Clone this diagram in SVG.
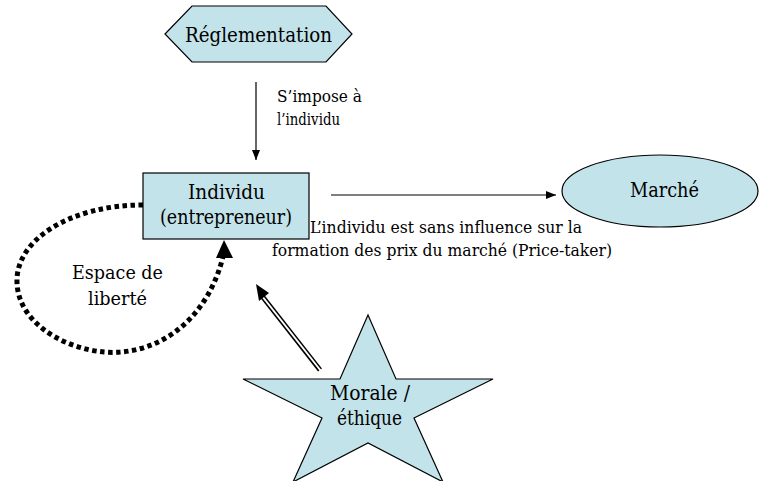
<svg xmlns="http://www.w3.org/2000/svg" width="763" height="481" viewBox="0 0 763 481" font-family="'DejaVu Serif', 'Liberation Serif', serif">
<style>
.shape{fill:#c2e3ea;stroke:#000;stroke-width:1.2}
text{fill:#000}
.big{font-size:21px;text-anchor:middle}
.lbl{font-size:17px}
.mid{font-size:19px;text-anchor:middle}
</style>
<defs>
<marker id="ah" markerWidth="10" markerHeight="8" refX="10" refY="4" orient="auto" markerUnits="userSpaceOnUse">
<path d="M0,0 L10,4 L0,8 Z" fill="#000"/>
</marker>
</defs>
<rect width="763" height="481" fill="#fff"/>
<g id="connectors">
<line x1="256" y1="82" x2="256" y2="160" stroke="#000" stroke-width="1.2" marker-end="url(#ah)"/>
<line x1="331" y1="195" x2="556" y2="195" stroke="#000" stroke-width="1.2" marker-end="url(#ah)"/>
<path d="M143,205 C70,205 15,240 17,283 C19,330 80,356 122,352 C180,346 214,300 224,252" fill="none" stroke="#000" stroke-width="5" stroke-dasharray="4.5 3.5"/>
<path d="M224,240 L233,258 L216,258 Z" fill="#000"/>
<line x1="320" y1="370" x2="262" y2="296" stroke="#000" stroke-width="5"/>
<line x1="321" y1="371" x2="262" y2="296" stroke="#fff" stroke-width="2"/>
<path d="M256,284 L269,293 L259,301 Z" fill="#000"/>
<text class="lbl" x="277" y="102" textLength="85" lengthAdjust="spacingAndGlyphs">S’impose à</text>
<text class="lbl" x="277" y="125" textLength="63" lengthAdjust="spacingAndGlyphs">l’individu</text>
<text class="lbl" x="310" y="233" textLength="272" lengthAdjust="spacingAndGlyphs">L’individu est sans influence sur la</text>
<text class="lbl" x="272" y="256" textLength="340" lengthAdjust="spacingAndGlyphs">formation des prix du marché (Price-taker)</text>
<text class="mid" x="117.5" y="279" textLength="91" lengthAdjust="spacingAndGlyphs">Espace de</text>
<text class="mid" x="117.5" y="305" textLength="59" lengthAdjust="spacingAndGlyphs">liberté</text>
</g>
<g id="reglementation">
<polygon class="shape" points="165,34 192,6 326,6 352,34 326,62 192,62"/>
<text class="big" x="258.5" y="42" textLength="147" lengthAdjust="spacingAndGlyphs">Réglementation</text>
</g>
<g id="individu">
<rect class="shape" x="143" y="173" width="166" height="66"/>
<text class="big" x="226.5" y="199" textLength="77" lengthAdjust="spacingAndGlyphs">Individu</text>
<text class="big" x="226" y="224" textLength="132" lengthAdjust="spacingAndGlyphs">(entrepreneur)</text>
</g>
<g id="marche">
<ellipse class="shape" cx="660" cy="191" rx="98" ry="36"/>
<text class="big" x="664.5" y="197" textLength="69" lengthAdjust="spacingAndGlyphs">Marché</text>
</g>
<g id="morale">
<polygon class="shape" points="368,315 396,379 493,379 414,418 443,482 368,443 293,482 322,418 243,379 340,379"/>
<text class="big" x="370" y="400" textLength="80" lengthAdjust="spacingAndGlyphs">Morale /</text>
<text class="big" x="369.5" y="425" textLength="65" lengthAdjust="spacingAndGlyphs">éthique</text>
</g>
</svg>
